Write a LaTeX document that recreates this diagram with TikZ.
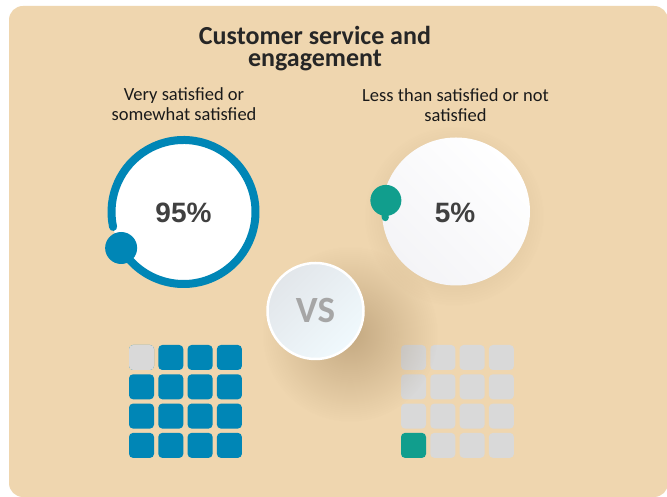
\documentclass[tikz,border=0pt]{standalone}
\usepackage{fontspec}
\setmainfont{Carlito}
\newfontfamily\arialf{Liberation Sans}
\usetikzlibrary{fadings}
\definecolor{panel}{RGB}{239,214,175}
\definecolor{ringblue}{RGB}{0,134,182}
\definecolor{tealc}{RGB}{17,158,141}
\definecolor{sqgray}{RGB}{217,217,217}
\definecolor{titlec}{RGB}{38,38,38}
\definecolor{labelc}{RGB}{26,26,26}
\definecolor{pctc}{RGB}{64,64,64}
\definecolor{vsc}{RGB}{166,166,166}
\definecolor{shadowc}{RGB}{110,80,40}
\definecolor{vsone}{RGB}{226,230,234}
\definecolor{vstwo}{RGB}{240,249,253}
\definecolor{wgray}{RGB}{244,244,247}
\tikzfading[name=vsfade, inner color=transparent!66, outer color=transparent!100]
\tikzfading[name=halofade, inner color=transparent!72, outer color=transparent!100]
\tikzset{
  sq/.style={rectangle, rounded corners=4pt, minimum size=25pt, inner sep=0pt},
  bluesq/.style={sq, fill=ringblue},
  graysq/.style={sq, fill=sqgray},
  tealsq/.style={sq, fill=tealc},
  titletext/.style={align=center, inner sep=0pt, text=titlec, font=\bfseries\fontsize{26}{22.5}\selectfont},
  labeltext/.style={align=center, inner sep=0pt, text=labelc, font=\fontsize{18.5}{20}\selectfont},
  pcttext/.style={text=pctc, font=\arialf\bfseries\fontsize{28}{30}\selectfont},
}
\begin{document}
\begin{tikzpicture}[x=1pt,y=1pt]
\useasboundingbox (0,0) rectangle (667,497);
\fill[white] (0,0) rectangle (667,497);
\fill[panel, rounded corners=14pt] (9,0) rectangle (668,491);
% halo of right circle
\fill[shadowc, path fading=halofade] (454,281) circle (90pt);
% grids
\foreach \r in {0,...,3}{
  \foreach \c in {0,...,3}{
    \node[bluesq] (L-\r-\c) at ({141.5+29.3*\c},{139.5-29.3*\r}) {};
    \node[graysq] (R-\r-\c) at ({413.5+29.3*\c},{139.5-29.3*\r}) {};
  }
}
\node[graysq] (L-0-0) at (141.5,139.5) {};
\node[tealsq] (R-3-0) at (413.5,{139.5-29.3*3}) {};
% VS shadow
\fill[shadowc, path fading=vsfade] (350,163) circle (88pt);
% left circle with ring
\node[circle, fill=white, minimum size=144pt, inner sep=0pt] (lcirc) at (183.5,285) {};
\draw[ringblue, line width=8pt, line cap=round] (lcirc.center) ++(210:72pt) arc[start angle=210, end angle=552, radius=72pt];
\fill[ringblue] (lcirc.center) ++(210:72pt) circle (16pt);
\node[pcttext] (lpct) at (183.5,284) {95\%};
% right circle
\node[circle, shading=axis, top color=white, bottom color=wgray, shading angle=-45, minimum size=148pt, inner sep=0pt] (rcirc) at (456,285.5) {};
\draw[tealc, line width=7pt, line cap=round] (rcirc.center) ++(171:71pt) arc[start angle=171, end angle=185, radius=71pt];
\fill[tealc] (rcirc.center) ++(171:71pt) circle (15.5pt);
\node[pcttext] (rpct) at (455,284.5) {5\%};
% VS circle
\node[circle, draw=white, line width=2.5pt, shading=axis, top color=vsone, bottom color=vstwo, shading angle=45, minimum size=96pt, inner sep=0pt, text=vsc, font=\bfseries\fontsize{37}{40}\selectfont] (vs) at (315.5,186) {VS};
% texts
\node[titletext, anchor=north] (title) at (315,471) {Customer service and\\engagement};
\node[labeltext, anchor=north] (llab) at (184,409.5) {Very satisfied or\\somewhat satisfied};
\node[labeltext, anchor=north] (rlab) at (455.5,409) {Less than satisfied or not\\satisfied};
\end{tikzpicture}
\end{document}
